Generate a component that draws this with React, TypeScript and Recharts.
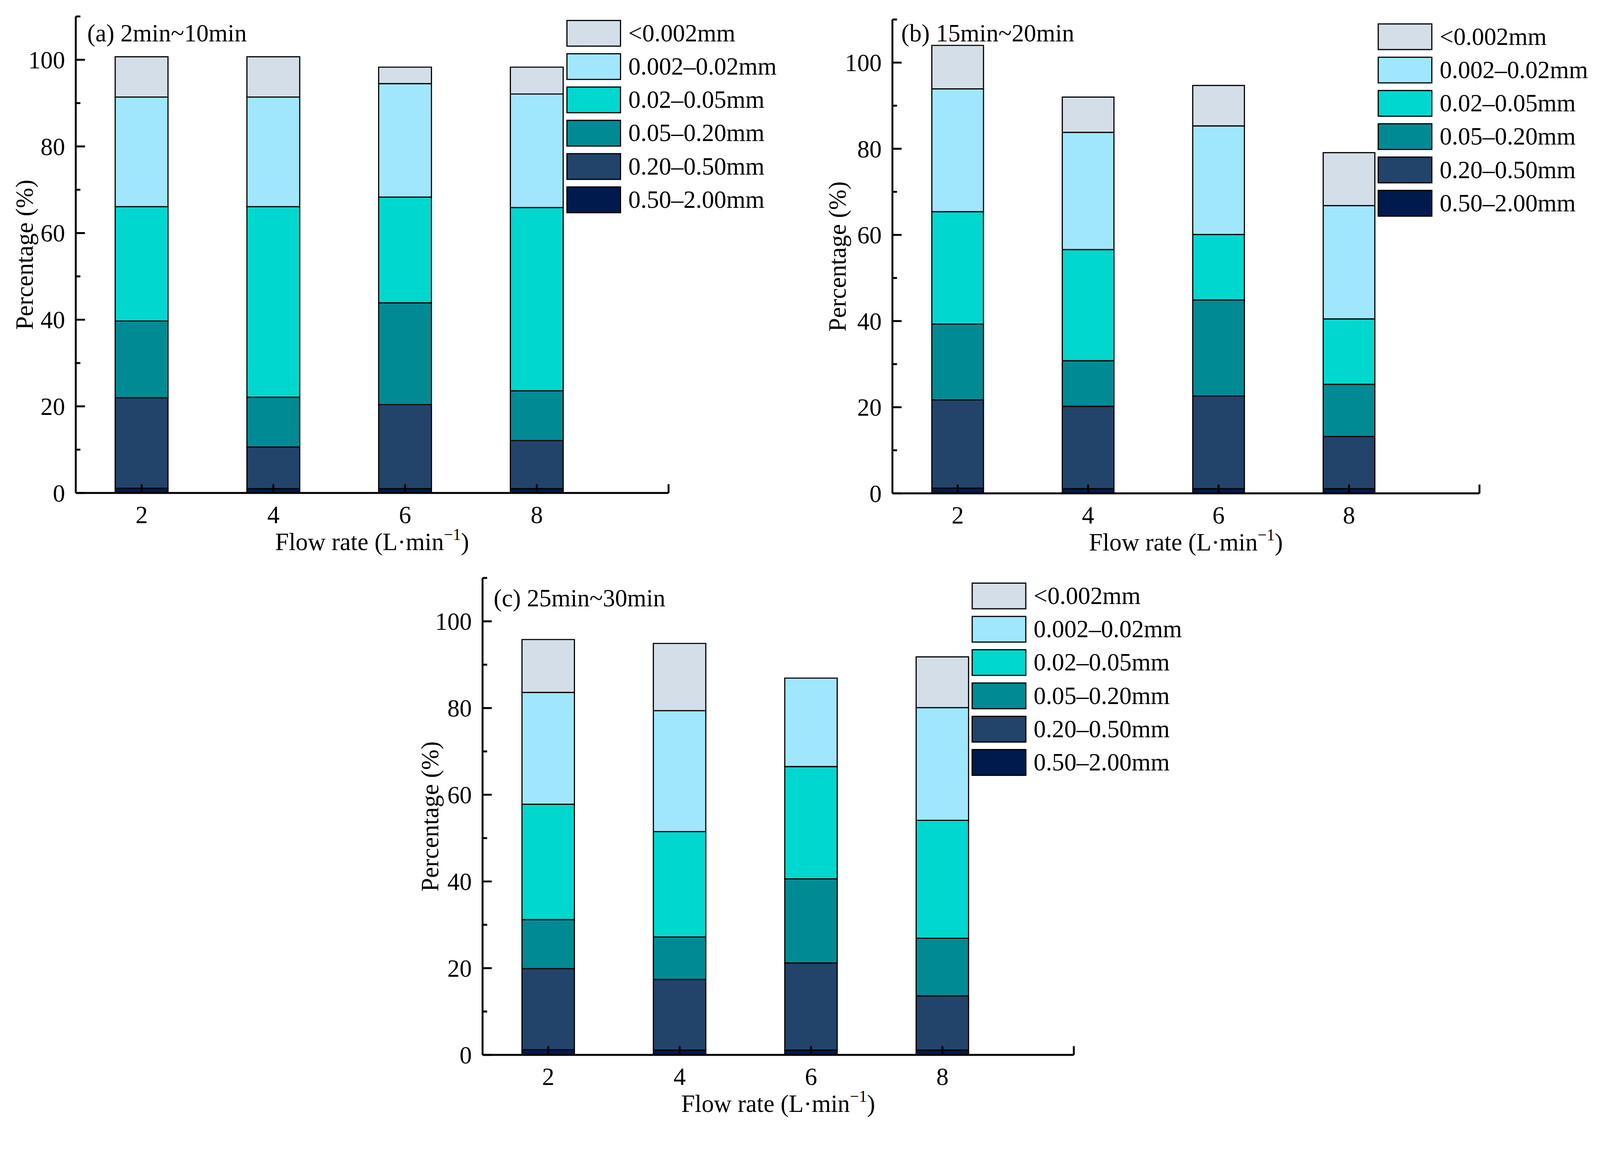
import React from 'react';
import { BarChart, Bar, XAxis, YAxis, Legend } from 'recharts';

const FONT = '"Liberation Serif", "Times New Roman", serif';

const flowRates = [2, 4, 6, 8];
const sizeClasses = ['0.50–2.00mm', '0.20–0.50mm', '0.05–0.20mm', '0.02–0.05mm', '0.002–0.02mm', '<0.002mm'];
const classColors = ['#001a4e', '#22446a', '#008b94', '#00d8cf', '#a0e7fd', '#d4dee8'];
const yTicks = [0, 10, 20, 30, 40, 50, 60, 70, 80, 90, 100, 110];
const xTicks = [2, 4, 6, 8, 10];

// (a) 2min~10min, one value per flow rate, bottom layer first
const a050200 = [1.1, 1.0, 1.0, 1.0];
const a020050 = [20.9, 9.6, 19.4, 11.1];
const a005020 = [17.7, 11.5, 23.5, 11.5];
const a002005 = [26.4, 44.0, 24.4, 42.3];
const a0002002 = [25.3, 25.3, 26.2, 26.2];
const a0002 = [9.3, 9.3, 3.8, 6.2];

// (b) 15min~20min
const b050200 = [1.2, 1.1, 1.1, 1.1];
const b020050 = [20.5, 19.1, 21.5, 12.1];
const b005020 = [17.6, 10.6, 22.3, 12.1];
const b002005 = [26.1, 25.8, 15.2, 15.2];
const b0002002 = [28.5, 27.2, 25.2, 26.3];
const b0002 = [10.1, 8.2, 9.4, 12.3];

// (c) 25min~30min
const c050200 = [1.2, 1.1, 1.1, 1.1];
const c020050 = [18.7, 16.3, 20.1, 12.5];
const c005020 = [11.3, 9.8, 19.4, 13.3];
const c002005 = [26.6, 24.3, 25.9, 27.2];
const c0002002 = [25.8, 27.9, 20.4, 26.0];
const c0002 = [12.2, 15.5, 0.0, 11.7];

function buildRows(series: number[][]) {
  return flowRates.map((rate, i) => {
    const row: Record<string, number> = { rate };
    series.forEach((s, k) => {
      row['s' + k] = s[i];
    });
    return row;
  });
}

const YTick = (props: any) => {
  const { x, y, payload } = props;
  const v = payload.value;
  const major = v % 20 === 0 && v <= 100;
  return (
    <g>
      <line x1={x} x2={x + (major ? 24 : 12)} y1={y} y2={y} stroke="#000" strokeWidth={5} />
      {major && (
        <text x={x - 28} y={y} dy="0.35em" textAnchor="end" fontSize={64} fontFamily={FONT} fill="#000">
          {v}
        </text>
      )}
    </g>
  );
};

const XTick = (props: any) => {
  const { x, y, payload } = props;
  const v = payload.value;
  return (
    <g>
      <line x1={x} x2={x} y1={y} y2={y - 23} stroke="#000" strokeWidth={5} />
      {v !== 10 && (
        <text x={x} y={y + 79} textAnchor="middle" fontSize={64} fontFamily={FONT} fill="#000">
          {v}
        </text>
      )}
    </g>
  );
};

// legend lists the classes top-down, as in the stack
const LegendBoxes = () => {
  const order = sizeClasses.map((name, k) => ({ name, color: classColors[k] })).reverse();
  return (
    <div style={{ fontFamily: FONT, fontSize: 64, color: '#000' }}>
      {order.map((p) => (
        <div key={p.name} style={{ display: 'flex', alignItems: 'center', height: 87, whiteSpace: 'nowrap' }}>
          <div
            style={{
              width: 143,
              height: 70,
              boxSizing: 'border-box',
              border: '3px solid #000',
              background: p.color,
            }}
          />
          <span style={{ marginLeft: 19, lineHeight: '70px' }}>{p.name}</span>
        </div>
      ))}
    </div>
  );
};

const W = 2100;
const H = 1470;
const PL = 198;
const PT = 43;

interface PanelProps {
  plotLeft: number;
  plotTop: number;
  plotW: number;
  plotH: number;
  barW: number;
  legendDx: number;
  legendDy: number;
  yTitleDx: number;
  title: string;
  titleDx: number;
  titleDy: number;
  series: number[][];
}

function Panel(p: PanelProps) {
  const rows = buildRows(p.series);
  const bottom = H - PT - p.plotH - 150;
  return (
    <div style={{ position: 'absolute', left: p.plotLeft - PL, top: p.plotTop - PT, width: W, height: H }}>
      <BarChart
        width={W}
        height={H}
        data={rows}
        margin={{ top: PT, left: PL - 150, right: W - PL - p.plotW, bottom }}
        style={{ fontFamily: FONT }}
      >
        <XAxis
          dataKey="rate"
          type="number"
          domain={[1, 10]}
          ticks={xTicks}
          interval={0}
          height={150}
          tickSize={0}
          tickMargin={0}
          tickLine={false}
          axisLine={{ stroke: '#000', strokeWidth: 5 }}
          tick={<XTick />}
        />
        <YAxis
          type="number"
          domain={[0, 110]}
          ticks={yTicks}
          interval={0}
          width={150}
          tickSize={0}
          tickMargin={0}
          tickLine={false}
          axisLine={{ stroke: '#000', strokeWidth: 5 }}
          tick={<YTick />}
        />
        {sizeClasses.map((name, k) => (
          <Bar
            key={name}
            dataKey={'s' + k}
            name={name}
            stackId="a"
            fill={classColors[k]}
            stroke="#000"
            strokeWidth={3}
            barSize={p.barW}
            isAnimationActive={false}
          />
        ))}
        <Legend
          layout="horizontal"
          verticalAlign="middle"
          align="center"
          content={<LegendBoxes />}
          wrapperStyle={{
            position: 'absolute',
            left: PL + p.legendDx,
            top: PT + p.legendDy - 8.5,
            width: 'auto',
            height: 'auto',
          }}
        />
        <text x={PL + p.titleDx} y={PT + p.titleDy} fontSize={64} fontFamily={FONT} fill="#000">
          {p.title}
        </text>
        <text
          x={PL + p.yTitleDx}
          y={PT + p.plotH / 2}
          transform={`rotate(-90, ${PL + p.yTitleDx}, ${PT + p.plotH / 2})`}
          textAnchor="middle"
          dominantBaseline="central"
          fontSize={64}
          fontFamily={FONT}
          fill="#000"
        >
          Percentage (%)
        </text>
        <text x={PL + p.plotW / 2} y={PT + p.plotH + 149} textAnchor="middle" fontSize={64} fontFamily={FONT} fill="#000">
          Flow rate (L·min
          <tspan dy={-26} fontSize={42}>
            −1
          </tspan>
          <tspan dy={26}>)</tspan>
        </text>
      </BarChart>
    </div>
  );
}

const FIG_W = 4181;
const FIG_H = 2946;

export default function App() {
  // fit the figure to whatever css viewport the page gets
  const vw = typeof window !== 'undefined' ? window.innerWidth : FIG_W;
  const vh = typeof window !== 'undefined' ? window.innerHeight : FIG_H;
  const scale = Math.min(vw / FIG_W, vh / FIG_H);
  return (
    <div
      style={{
        position: 'fixed',
        left: 0,
        top: 0,
        width: vw,
        height: vh,
        background: '#fff',
        overflow: 'hidden',
      }}
    >
      <div
        style={{
          position: 'absolute',
          left: 0,
          top: 0,
          width: FIG_W,
          height: FIG_H,
          transform: `scale(${scale})`,
          transformOrigin: '0 0',
        }}
      >
        <Panel
          plotLeft={198}
          plotTop={43}
          plotW={1549}
          plotH={1245}
          barW={138}
          legendDx={1282}
          legendDy={9}
          yTitleDx={-134}
          title="(a) 2min~10min"
          titleDx={30}
          titleDy={65}
          series={[a050200, a020050, a005020, a002005, a0002002, a0002]}
        />
        <Panel
          plotLeft={2332}
          plotTop={51}
          plotW={1534}
          plotH={1238}
          barW={135}
          legendDx={1268}
          legendDy={10}
          yTitleDx={-143}
          title="(b) 15min~20min"
          titleDx={23}
          titleDy={57}
          series={[b050200, b020050, b005020, b002005, b0002002, b0002]}
        />
        <Panel
          plotLeft={1261}
          plotTop={1510}
          plotW={1545}
          plotH={1246}
          barW={137}
          legendDx={1278}
          legendDy={12}
          yTitleDx={-137}
          title="(c) 25min~30min"
          titleDx={29}
          titleDy={74}
          series={[c050200, c020050, c005020, c002005, c0002002, c0002]}
        />
      </div>
    </div>
  );
}
